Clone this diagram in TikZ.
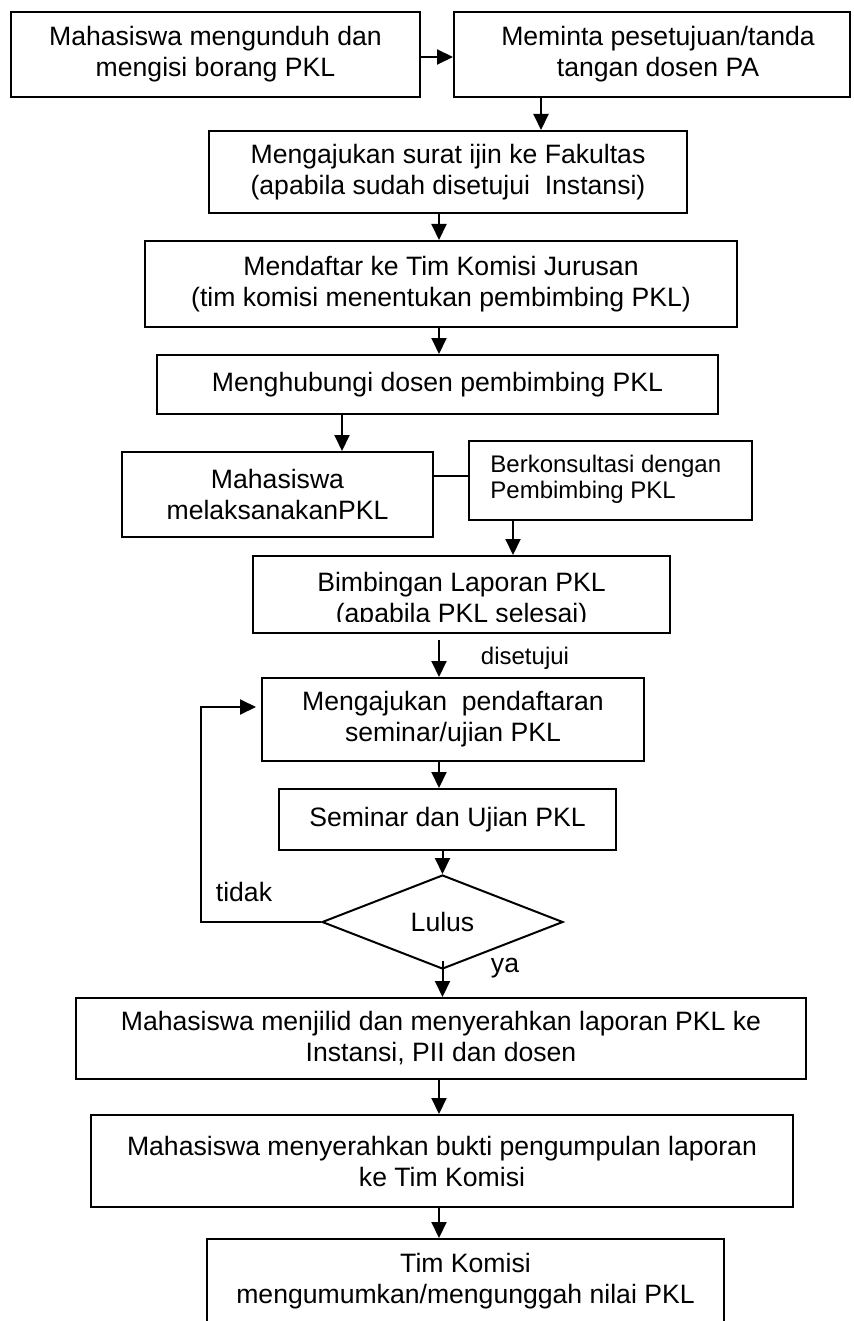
\documentclass[tikz,border=0pt]{standalone}
\usepackage{fontspec}
\setmainfont{Liberation Sans}
\usetikzlibrary{arrows.meta,shapes.geometric,calc}
\begin{document}
\begin{tikzpicture}[x=0.5pt,y=-0.5pt,
  mainfont/.style={font=\fontsize{13.3pt}{15.5pt}\selectfont},
  smallfont/.style={font=\fontsize{12pt}{13pt}\selectfont},
  box/.style={draw,line width=1pt,inner sep=0pt,align=center,mainfont},
  conn/.style={line width=1pt},
  arr/.style={conn,-{Triangle[length=8pt,width=7.5pt]}},
  lbl/.style={inner sep=0pt,mainfont},
  slbl/.style={inner sep=0pt,smallfont}]
\useasboundingbox (0,0) rectangle (853,1321);

% boxes
\node[box,minimum width=204.5pt,minimum height=42.5pt] (B1) at (215.5,54.5) {Mahasiswa mengunduh dan\\mengisi borang PKL};
\node[box,minimum width=198pt,minimum height=42.5pt] (B2) at (652,54.5) {};
\node[lbl,align=center] (B2t) at (658,54.5) {Meminta pesetujuan/tanda\\tangan dosen PA};
\node[box,minimum width=239pt,minimum height=41pt] (B3) at (448,172) {Mengajukan surat ijin ke Fakultas\\(apabila sudah disetujui\ \ Instansi)};
\node[box,minimum width=296pt,minimum height=43pt] (B4) at (441,284) {Mendaftar ke Tim Komisi Jurusan\\(tim komisi menentukan pembimbing PKL)};
\node[box,minimum width=280.5pt,minimum height=29.5pt] (B5) at (437.5,384.5) {Menghubungi dosen pembimbing PKL};
\node[box,minimum width=155.5pt,minimum height=42.5pt] (B6) at (277.5,494.5) {Mahasiswa\\melaksanakanPKL};
\node[box,minimum width=141.5pt,minimum height=39.5pt] (B7) at (610.5,480.5) {};
\node[slbl,anchor=west,align=left] (B7t) at (490,479) {Berkonsultasi dengan\\Pembimbing PKL};
\node[box,minimum width=208.5pt,minimum height=38.5pt] (B8) at (461.5,594.5) {};
\begin{scope}
  \clip (253,556) rectangle (670,621);
  \node[lbl,align=center] (B8t) at (461.5,600) {Bimbingan Laporan PKL\\(apabila PKL selesai)};
\end{scope}
\node[box,minimum width=191pt,minimum height=41.5pt] (B9) at (453,719.5) {Mengajukan\ \ pendaftaran\\seminar/ujian PKL};
\node[box,minimum width=168.5pt,minimum height=30.5pt] (S) at (447.5,819.5) {Seminar dan Ujian PKL};
\node[draw,diamond,line width=1pt,inner sep=0pt,minimum width=120.5pt,minimum height=47pt,mainfont] (D) at (442.5,922) {Lulus};
\node[box,minimum width=365pt,minimum height=40.5pt] (B10) at (441,1038.5) {Mahasiswa menjilid dan menyerahkan laporan PKL ke\\Instansi, PII dan dosen};
\node[box,minimum width=351pt,minimum height=46pt] (B11) at (442,1161) {Mahasiswa menyerahkan bukti pengumpulan laporan\\ke Tim Komisi};
\node[box,minimum width=258.5pt,minimum height=42pt] (B12) at (465.5,1281) {Tim Komisi\\mengumumkan/mengunggah nilai PKL};

% labels
\node[slbl] (L1) at (525,658) {disetujui};
\node[lbl] (L2) at (244,892) {tidak};
\node[lbl] (L3) at (505,968) {ya};

% helper coordinates
\coordinate (c541) at (541,0);
\coordinate (c439) at (439,0);
\coordinate (c342) at (342,0);
\coordinate (c513) at (513,0);
\coordinate (r57) at (0,57);
\coordinate (r476) at (0,476);
\coordinate (r707) at (0,707);
\coordinate (LoopX) at (201,0);
\coordinate (Dlow) at ([yshift=4.5pt]D.south);

% connectors
\draw[arr] (B1.east |- r57) -- (B2.west |- r57);
\draw[arr] (B2.south -| c541) -- (B3.north -| c541);
\draw[arr] (B3.south -| c439) -- (B4.north -| c439);
\draw[arr] (B4.south -| c439) -- (B5.north -| c439);
\draw[arr] (B5.south -| c342) -- (B6.north -| c342);
\draw[conn] (B6.east |- r476) -- (B7.west |- r476);
\draw[arr] (B7.south -| c513) -- (B8.north -| c513);
\draw[arr,shorten <=3pt] (B8.south -| c439) -- (B9.north -| c439);
\draw[arr] (B9.south -| c439) -- (S.north -| c439);
\draw[arr] (S.south -| D.north) -- (D.north);
\draw[arr] (Dlow) -- (B10.north -| Dlow);
\draw[arr] (B10.south -| c439) -- (B11.north -| c439);
\draw[arr] (B11.south -| c439) -- (B12.north -| c439);
\draw[arr,shorten >=2.5pt] (D.west) -- (D.west -| LoopX) |- (B9.west |- r707);
\end{tikzpicture}
\end{document}
